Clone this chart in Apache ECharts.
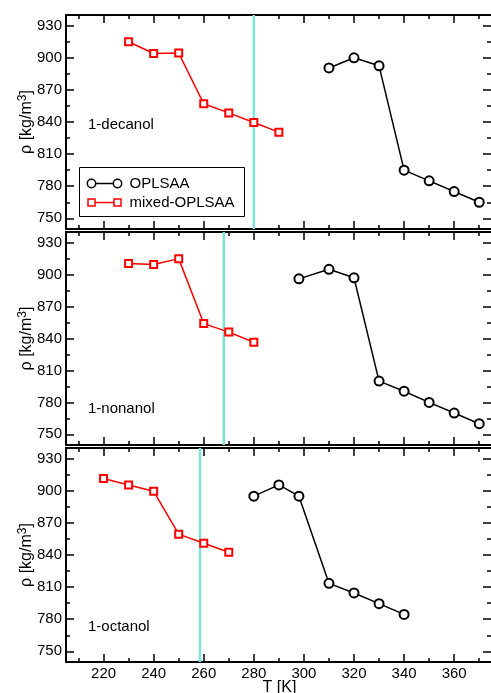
<!DOCTYPE html>
<html>
<head>
<meta charset="utf-8">
<script src="https://cdn.jsdelivr.net/npm/echarts@6/dist/echarts.min.js"></script>
<style>html,body{margin:0;padding:0;background:#fff;}#c{width:491px;height:693px;}</style>
</head>
<body>
<div id="c"></div>
<script>
// ---- data ----
const panelNames = ['1-decanol', '1-nonanol', '1-octanol'];
const meltingT = [280, 268, 258.5];

const T_dec_mixed = [230, 240, 250, 260, 270, 280, 290];
const rho_dec_mixed = [915, 904, 904.5, 857, 848.5, 839.5, 830.5];
const T_dec_opls = [310, 320, 330, 340, 350, 360, 370];
const rho_dec_opls = [890.5, 900, 892.5, 795, 785, 775, 765];

const T_non_mixed = [230, 240, 250, 260, 270, 280];
const rho_non_mixed = [910.5, 909.5, 915, 854, 846, 836.5];
const T_non_opls = [298, 310, 320, 330, 340, 350, 360, 370];
const rho_non_opls = [896, 905, 897, 800, 790.5, 780, 770, 760];

const T_oct_mixed = [220, 230, 240, 250, 260, 270];
const rho_oct_mixed = [911.5, 905.5, 899.5, 859.5, 851, 842.5];
const T_oct_opls = [280, 290, 298, 310, 320, 330, 340];
const rho_oct_opls = [895, 905.5, 895, 813.5, 804.5, 794.5, 784.5];

const xMajorTicks = [220, 240, 260, 280, 300, 320, 340, 360];
const xMinorTicks = [210, 230, 250, 270, 290, 310, 330, 350, 370];
const yMajorTicks = [750, 780, 810, 840, 870, 900, 930];
const yMinorTicks = [765, 795, 825, 855, 885, 915];

const legendNames = ['OPLSAA', 'mixed-OPLSAA'];

// ---- build ----
const FONT = 'Liberation Sans, Arial, sans-serif';
const xMin = 205, xMax = 375.5, yMin = 740, yMax = 940;
const zip = (a, b) => a.map((v, i) => [v, b[i]]);

const opls = [zip(T_dec_opls, rho_dec_opls), zip(T_non_opls, rho_non_opls), zip(T_oct_opls, rho_oct_opls)];
const mixed = [zip(T_dec_mixed, rho_dec_mixed), zip(T_non_mixed, rho_non_mixed), zip(T_oct_mixed, rho_oct_mixed)];

const grids = [
  {left: 66, top: 15, width: 427, height: 214, outerBoundsMode: 'none', containLabel: false},
  {left: 66, top: 232, width: 427, height: 213, outerBoundsMode: 'none', containLabel: false},
  {left: 66, top: 448, width: 427, height: 214, outerBoundsMode: 'none', containLabel: false}
];

const xAxes = [], yAxes = [], series = [];
const lineSty = {show: true, onZero: false, lineStyle: {color: '#000', width: 2}};
const tickSty = {color: '#000', width: 1.5};

grids.forEach((g, p) => {
  const last = p === 2;
  const xBase = {type: 'value', gridIndex: p, min: xMin, max: xMax, splitLine: {show: false}};
  xAxes.push(Object.assign({}, xBase, {
    position: 'bottom', axisLine: lineSty,
    axisTick: {show: true, inside: true, length: 8, customValues: xMajorTicks, lineStyle: tickSty},
    axisLabel: {show: last, customValues: xMajorTicks, margin: 4, fontSize: 15, color: '#000', fontFamily: FONT},
    name: last ? 'T [K]' : '', nameLocation: 'middle', nameGap: 18, nameMoveOverlap: false,
    nameTextStyle: {fontSize: 16, color: '#000', fontFamily: FONT}
  }));
  xAxes.push(Object.assign({}, xBase, {
    position: 'bottom', axisLine: {show: false},
    axisTick: {show: true, inside: true, length: 4, customValues: xMinorTicks, lineStyle: tickSty},
    axisLabel: {show: false}
  }));
  xAxes.push(Object.assign({}, xBase, {
    position: 'top', axisLine: lineSty,
    axisTick: {show: true, inside: true, length: 8, customValues: xMajorTicks, lineStyle: tickSty},
    axisLabel: {show: false}
  }));
  xAxes.push(Object.assign({}, xBase, {
    position: 'top', axisLine: {show: false},
    axisTick: {show: true, inside: true, length: 4, customValues: xMinorTicks, lineStyle: tickSty},
    axisLabel: {show: false}
  }));

  const yBase = {type: 'value', gridIndex: p, min: yMin, max: yMax, splitLine: {show: false}};
  yAxes.push(Object.assign({}, yBase, {
    position: 'left', axisLine: lineSty,
    axisTick: {show: true, inside: true, length: 8, customValues: yMajorTicks, lineStyle: tickSty},
    axisLabel: {show: true, customValues: yMajorTicks, margin: 4, fontSize: 15, color: '#000', fontFamily: FONT},
    name: '{a|ρ [kg/m}{s|3}{a|]}', nameLocation: 'middle', nameGap: 29, nameMoveOverlap: false,
    nameTextStyle: {color: '#000', fontFamily: FONT, rich: {
      a: {fontSize: 16, color: '#000', fontFamily: FONT, lineHeight: 20},
      s: {fontSize: 12, color: '#000', fontFamily: FONT, verticalAlign: 'top', lineHeight: 20}
    }}
  }));
  yAxes.push(Object.assign({}, yBase, {
    position: 'left', axisLine: {show: false},
    axisTick: {show: true, inside: true, length: 4, customValues: yMinorTicks, lineStyle: tickSty},
    axisLabel: {show: false}
  }));
  yAxes.push(Object.assign({}, yBase, {
    position: 'right', axisLine: lineSty,
    axisTick: {show: true, inside: true, length: 10, customValues: yMajorTicks, lineStyle: tickSty},
    axisLabel: {show: false}
  }));
  yAxes.push(Object.assign({}, yBase, {
    position: 'right', axisLine: {show: false},
    axisTick: {show: true, inside: true, length: 6, customValues: yMinorTicks, lineStyle: tickSty},
    axisLabel: {show: false}
  }));

  const xi = p * 4, yi = p * 4;
  series.push({
    type: 'line', xAxisIndex: xi, yAxisIndex: yi, symbol: 'none', silent: true, z: 1,
    data: [[meltingT[p], yMin], [meltingT[p], yMax]],
    lineStyle: {color: '#7be3d8', width: 2.5}
  });
  series.push({
    name: legendNames[0], type: 'line', xAxisIndex: xi, yAxisIndex: yi, z: 3,
    data: opls[p], symbol: 'emptyCircle', symbolSize: 9,
    lineStyle: {color: '#000', width: 1.5},
    itemStyle: {color: '#000', borderColor: '#000', borderWidth: 1.5}
  });
  series.push({
    name: legendNames[1], type: 'line', xAxisIndex: xi, yAxisIndex: yi, z: 3,
    data: mixed[p], symbol: 'emptyRect', symbolSize: 7,
    lineStyle: {color: '#ff0000', width: 1.5},
    itemStyle: {color: '#ff0000', borderColor: '#ff0000', borderWidth: 1.5}
  });
});

const panelLabelY = [126, 410, 628];
const graphics = panelNames.map((n, i) => ({
  type: 'text', left: 88, top: panelLabelY[i] - 9,
  style: {text: n, fontSize: 15, fill: '#000', fontFamily: FONT}
}));

graphics.push({
  type: 'group', left: 79, top: 167, z: 10,
  children: [
    {type: 'rect', shape: {x: 0, y: 0, width: 165, height: 49}, style: {fill: '#fff', stroke: '#000', lineWidth: 1}},
    {type: 'line', shape: {x1: 12, y1: 16, x2: 38, y2: 16}, style: {stroke: '#000', lineWidth: 1.5}},
    {type: 'circle', shape: {cx: 12, cy: 16, r: 4.2}, style: {fill: '#fff', stroke: '#000', lineWidth: 1.5}},
    {type: 'circle', shape: {cx: 38, cy: 16, r: 4.2}, style: {fill: '#fff', stroke: '#000', lineWidth: 1.5}},
    {type: 'text', x: 50, y: 16, style: {text: legendNames[0], fontSize: 15, fill: '#000', fontFamily: FONT, verticalAlign: 'middle'}},
    {type: 'line', shape: {x1: 12, y1: 35, x2: 38, y2: 35}, style: {stroke: '#ff0000', lineWidth: 1.5}},
    {type: 'rect', shape: {x: 8.5, y: 31.5, width: 7, height: 7}, style: {fill: '#fff', stroke: '#ff0000', lineWidth: 1.5}},
    {type: 'rect', shape: {x: 34.5, y: 31.5, width: 7, height: 7}, style: {fill: '#fff', stroke: '#ff0000', lineWidth: 1.5}},
    {type: 'text', x: 50, y: 35, style: {text: legendNames[1], fontSize: 15, fill: '#000', fontFamily: FONT, verticalAlign: 'middle'}}
  ]
});

const chart = echarts.init(document.getElementById('c'), null, {renderer: 'canvas'});
chart.setOption({
  animation: false,
  backgroundColor: '#fff',
  grid: grids,
  xAxis: xAxes,
  yAxis: yAxes,
  series: series,
  graphic: graphics
});
</script>
</body>
</html>
